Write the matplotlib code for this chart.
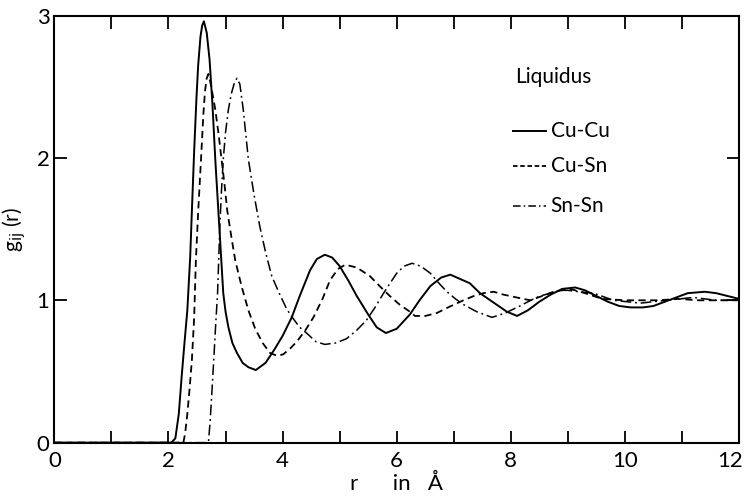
import matplotlib
matplotlib.use("Agg")
import matplotlib.pyplot as plt
from matplotlib.ticker import MultipleLocator

plt.rcParams['font.family'] = ['Lato', 'DejaVu Sans']

# pair distribution functions, r in Angstrom
cucu_r = [0.0, 2.05, 2.12, 2.18, 2.23, 2.28, 2.33, 2.38, 2.41, 2.45, 2.49, 2.52, 2.56, 2.59,
          2.62, 2.67, 2.72, 2.77, 2.82, 2.89, 2.96, 3.0, 3.05, 3.12, 3.2, 3.3, 3.4, 3.53,
          3.7, 3.85, 4.0, 4.16, 4.3, 4.48, 4.6, 4.74, 4.87, 5.0, 5.15, 5.3, 5.5, 5.65, 5.81,
          6.0, 6.23, 6.4, 6.59, 6.78, 6.94, 7.11, 7.28, 7.46, 7.64, 7.93, 8.11, 8.3, 8.5,
          8.7, 8.9, 9.13, 9.3, 9.5, 9.7, 9.9, 10.1, 10.32, 10.5, 10.7, 10.9, 11.1, 11.4,
          11.6, 11.8, 12.0]
cucu_g = [0.0, 0.0, 0.03, 0.2, 0.46, 0.7, 0.93, 1.3, 1.63, 2.05, 2.42, 2.65, 2.85, 2.93,
          2.96, 2.88, 2.69, 2.38, 1.99, 1.52, 1.05, 0.92, 0.81, 0.7, 0.63, 0.56, 0.53, 0.51,
          0.56, 0.65, 0.75, 0.88, 1.03, 1.21, 1.29, 1.32, 1.3, 1.24, 1.14, 1.03, 0.9, 0.81, 0.77,
          0.8, 0.9, 1.0, 1.1, 1.16, 1.18, 1.15, 1.12, 1.05, 1.0, 0.92, 0.89, 0.93, 0.99,
          1.04, 1.08, 1.09, 1.07, 1.03, 0.99, 0.96, 0.95, 0.95, 0.96, 0.99, 1.02, 1.05, 1.06,
          1.05, 1.03, 1.01]

cusn_r = [0.0, 2.26, 2.29, 2.33, 2.37, 2.41, 2.45, 2.48, 2.52, 2.57, 2.61, 2.64, 2.67, 2.7,
          2.74, 2.78, 2.82, 2.88, 2.93, 2.98, 3.03, 3.1, 3.17, 3.28, 3.4, 3.52, 3.65, 3.78,
          3.9, 4.01, 4.13, 4.25, 4.4, 4.54, 4.7, 4.83, 4.97, 5.1, 5.3, 5.53, 5.7, 5.88, 6.05,
          6.23, 6.32, 6.5, 6.7, 6.9, 7.17, 7.35, 7.52, 7.7, 7.87, 8.1, 8.34, 8.55, 8.75, 9.04,
          9.3, 9.6, 10.0, 10.3, 10.6, 10.91, 11.3, 11.7, 12.0]
cusn_g = [0.0, 0.0, 0.06, 0.2, 0.38, 0.58, 0.88, 1.28, 1.62, 1.99, 2.3, 2.47, 2.56, 2.59,
          2.52, 2.43, 2.34, 2.16, 1.99, 1.82, 1.63, 1.45, 1.28, 1.1, 0.93, 0.8, 0.7, 0.63,
          0.61, 0.62, 0.66, 0.71, 0.79, 0.88, 1.01, 1.14, 1.22, 1.25, 1.23, 1.17, 1.1, 1.03,
          0.97, 0.92, 0.89, 0.89, 0.91, 0.95, 1.0, 1.03, 1.05, 1.06, 1.04, 1.02, 1.0, 1.03,
          1.06, 1.08, 1.05, 1.01, 1.0, 1.0, 1.0, 1.01, 1.0, 1.0, 1.0]

snsn_r = [0.0, 2.7, 2.73, 2.76, 2.8, 2.83, 2.86, 2.9, 2.93, 2.96, 3.0, 3.05, 3.1, 3.15,
          3.2, 3.25, 3.31, 3.4, 3.5, 3.6, 3.7, 3.81, 3.94, 4.07, 4.16, 4.3, 4.42, 4.58, 4.74,
          4.93, 5.12, 5.3, 5.47, 5.62, 5.77, 5.9, 6.0, 6.13, 6.27, 6.42, 6.59, 6.74, 6.88,
          7.03, 7.17, 7.4, 7.67, 7.9, 8.16, 8.35, 8.51, 8.7, 8.87, 9.0, 9.2, 9.45, 9.8,
          10.27, 10.73, 11.2, 11.6, 12.0]
snsn_g = [0.0, 0.0, 0.15, 0.35, 0.63, 0.85, 1.05, 1.52, 1.78, 1.99, 2.18, 2.34, 2.45, 2.52,
          2.56, 2.52, 2.34, 1.99, 1.74, 1.52, 1.34, 1.17, 1.05, 0.94, 0.885, 0.81, 0.77, 0.71,
          0.69, 0.7, 0.73, 0.79, 0.86, 0.95, 1.05, 1.13, 1.19, 1.24, 1.26, 1.24, 1.19, 1.12,
          1.06, 1.01, 0.97, 0.92, 0.88, 0.91, 0.96, 1.0, 1.03, 1.05, 1.07, 1.07, 1.06, 1.05,
          1.0, 0.98, 1.0, 1.02, 1.0, 1.0]

series_labels = ['Cu-Cu', 'Cu-Sn', 'Sn-Sn']
r_ticks = [0, 2, 4, 6, 8, 10, 12]
r_ticklabels = ['0', '2', '4', '6', '8', '10', '12']

fig = plt.figure(figsize=(7.45, 5.03), dpi=100)
ax = fig.add_axes([0.073, 0.12, 0.919, 0.849])

ax.plot(cucu_r, cucu_g, color='black', lw=1.4, solid_joinstyle='round')
ax.plot(cusn_r, cusn_g, color='black', lw=1.3, dashes=(4, 2.5))
ax.plot(snsn_r, snsn_g, color='black', lw=1.1, dashes=(7, 2.5, 1.2, 2.5))

ax.set_xlim(0, 12)
ax.set_ylim(0, 3)

# the last label would stick out of the figure, it is drawn separately below
ax.set_xticks(r_ticks, r_ticklabels[:-1] + [''])
ax.xaxis.set_minor_locator(MultipleLocator(1))
ax.yaxis.set_major_locator(MultipleLocator(1))
ax.tick_params(which='both', direction='in', top=True, right=True,
               length=9, width=1.3, labelsize=16)
ax.tick_params(axis='x', pad=6)
for s in ax.spines.values():
    s.set_linewidth(1.5)

ax.annotate(r_ticklabels[-1], xy=(r_ticks[-1], 0), xycoords='data',
            xytext=(3, -6), textcoords='offset points',
            ha='right', va='top', fontsize=16)

ax.set_xlabel('r      in   Å', fontsize=16, labelpad=2)
ax.set_ylabel('g$_\\mathrm{ij}$ (r)', fontsize=15, labelpad=6)

# legend drawn by hand like in the original
ax.text(8.07, 2.57, 'Liquidus', fontsize=15, va='center', ha='left')
leg_y = [2.19, 1.94, 1.66]
styles = [dict(lw=1.4), dict(lw=1.3, dashes=(2.5, 1.5)), dict(lw=1.1, dashes=(5, 2, 1, 2))]
for lab, y, st in zip(series_labels, leg_y, styles):
    ax.plot([8.04, 8.62], [y, y], color='black', **st)
    ax.text(8.7, y, lab, fontsize=15, va='center', ha='left')

fig.savefig('out.png', dpi=100)
